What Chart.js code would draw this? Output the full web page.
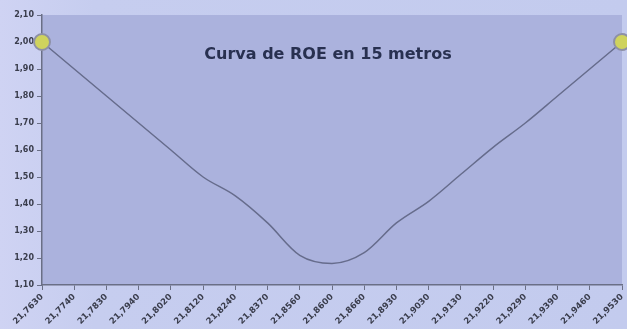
<!DOCTYPE html>
<html>
<head>
<meta charset="utf-8">
<script src="https://cdn.jsdelivr.net/npm/chart.js@4/dist/chart.umd.min.js"></script>
<style>
  html, body { margin: 0; padding: 0; background: #c4cbee; }
  #wrap { width: 627px; height: 329px; }
</style>
</head>
<body>
<div id="wrap"><canvas id="roe"></canvas></div>
<script>
// frecuencias (MHz) y ROE medida
const frecuencias = ['21,7630', '21,7740', '21,7830', '21,7940', '21,8020', '21,8120', '21,8240',
  '21,8370', '21,8560', '21,8600', '21,8660', '21,8930', '21,9030', '21,9130', '21,9220',
  '21,9290', '21,9390', '21,9460', '21,9530'];
const roe = [2.00, 1.90, 1.80, 1.70, 1.60, 1.50, 1.43, 1.33, 1.21, 1.18, 1.22, 1.33, 1.41,
  1.51, 1.61, 1.70, 1.80, 1.90, 2.00];
const titulo = 'Curva de ROE en 15 metros';

const tickFont = { family: 'DejaVu Sans', size: 8, weight: 'bold' };

// fondo del gráfico + título dentro del área
const fondo = {
  id: 'fondo',
  beforeDraw(chart) {
    const { ctx, chartArea: a, width, height } = chart;
    ctx.save();
    const g = ctx.createLinearGradient(0, 0, width, 0);
    g.addColorStop(0, '#cfd3f3');
    g.addColorStop(0.15, '#c6cdef');
    g.addColorStop(1, '#c3cbee');
    ctx.fillStyle = g;
    ctx.fillRect(0, 0, width, height);
    ctx.fillStyle = '#abb2dd';
    ctx.fillRect(a.left, a.top, a.right - a.left, a.bottom - a.top);
    ctx.restore();
  },
  afterDatasetsDraw(chart) {
    const { ctx, chartArea: a } = chart;
    ctx.save();
    ctx.font = 'bold 16px "DejaVu Sans"';
    ctx.fillStyle = '#283050';
    ctx.textAlign = 'center';
    ctx.textBaseline = 'middle';
    ctx.fillText(titulo, (a.left + a.right) / 2 - 4, a.top + 40);
    ctx.restore();
  }
};

const radios = roe.map((v, i) => (i === 0 || i === roe.length - 1) ? 8 : 0);

new Chart(document.getElementById('roe'), {
  type: 'line',
  data: {
    labels: frecuencias,
    datasets: [{
      data: roe,
      borderColor: '#666c8c',
      borderWidth: 1.5,
      tension: 0.4,
      cubicInterpolationMode: 'monotone',
      pointRadius: radios,
      pointBackgroundColor: '#cfd35e',
      pointBorderColor: '#8d90a6',
      pointBorderWidth: 2,
      clip: false,
      fill: false
    }]
  },
  options: {
    responsive: true,
    maintainAspectRatio: false,
    animation: false,
    layout: { autoPadding: false, padding: { top: 15, right: 5, left: 0, bottom: 0 } },
    plugins: { legend: { display: false }, tooltip: { enabled: false } },
    scales: {
      x: {
        offset: false,
        afterFit(s) { s.height = 44; s.paddingLeft = 0; s.paddingRight = 0; },
        border: { color: '#6a6f86', width: 1.5 },
        grid: { drawOnChartArea: false, color: '#6a6f86', tickLength: 5 },
        ticks: {
          autoSkip: false, minRotation: 45, maxRotation: 45,
          color: '#3a3d4c', font: { ...tickFont, size: 8.5 }, padding: 2
        }
      },
      y: {
        min: 1.1, max: 2.1,
        afterFit(s) { s.width = 42; },
        border: { color: '#6a6f86', width: 1.5 },
        grid: { drawOnChartArea: false, color: '#6a6f86', tickLength: 5 },
        ticks: {
          stepSize: 0.1,
          color: '#3a3d4c', font: tickFont, padding: 3,
          callback: v => v.toFixed(2).replace('.', ',')
        }
      }
    }
  },
  plugins: [fondo]
});
</script>
</body>
</html>
